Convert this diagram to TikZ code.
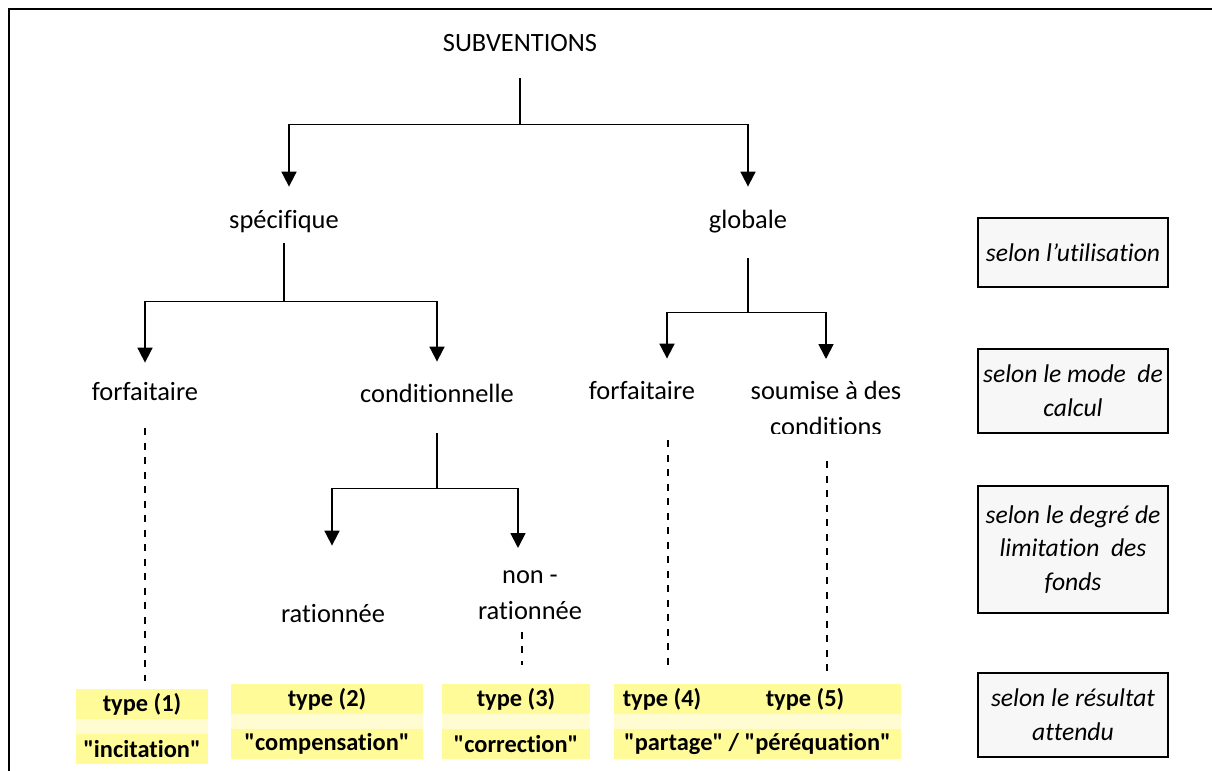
\documentclass[tikz,border=0pt]{standalone}
\usepackage{fontspec}
\setmainfont{Carlito}[Ligatures={NoCommon}]
\usetikzlibrary{arrows.meta}
\definecolor{typeyellow}{RGB}{255,251,153}
\definecolor{typeband}{RGB}{255,252,210}
\definecolor{critgray}{RGB}{247,247,247}
\begin{document}
\begin{tikzpicture}[x=0.5pt,y=-0.5pt,
  lbl/.style={anchor=base,inner sep=0,text height=9pt,text depth=3pt,font=\fontsize{13.2}{18}\selectfont},
  lbltwo/.style={anchor=north,inner sep=0,align=center,font=\fontsize{13.2}{18}\selectfont},
  branch/.style={line width=0.9pt,-{Triangle[width=7.5pt,length=7.5pt]}},
  dashlink/.style={line width=0.8pt,dash pattern=on 3.5pt off 3.75pt},
  typebox/.style={fill=typeyellow,inner sep=0,minimum height=15pt,font=\fontsize{12.2}{14}\selectfont\bfseries},
  crit/.style={draw,line width=1pt,fill=critgray,inner sep=0,minimum width=95pt,align=center,font=\fontsize{12.8}{16.8}\selectfont\itshape},
  pageframe/.style={line width=1.2pt}]
\useasboundingbox (0,0) rectangle (1212,771);
\draw[pageframe] (9,771) -- (9,9) -- (1212,9);
\node at (520,52) [lbl] (subv) {SUBVENTIONS};
\node at (284,228) [lbl] (spec) {spécifique};
\node at (748,228) [lbl] (glob) {globale};
\node at (145,400) [lbl] (forfL) {forfaitaire};
\node at (437,402) [lbl] (cond) {conditionnelle};
\node at (642,399) [lbl] (forfR) {forfaitaire};
\begin{scope}
\clip (740,360) rectangle (920,433);
\node at (826,381) [lbltwo] (soum) {soumise à des\\conditions};
\end{scope}
\node at (333,622) [lbl] (ratio) {rationnée};
\node at (530,570) [lbltwo] (nonrat) {non -\\rationnée};
\draw[branch,shorten <=10pt,shorten >=11.5pt] (subv.south) -- ++(0,66) -| ([xshift=2.5pt]spec.north);
\draw[branch,shorten <=10pt,shorten >=11.5pt] (subv.south) -- ++(0,66) -| (glob.north);
\draw[branch,shorten <=4.5pt,shorten >=9.5pt] (spec.south) -- ++(0,67) -| (forfL.north);
\draw[branch,shorten <=4.5pt,shorten >=11pt] (spec.south) -- ++(0,67) -| (cond.north);
\draw[branch,shorten <=12pt,shorten >=11pt] (glob.south) -- ++(0,78) -| ([xshift=12.5pt]forfR.north);
\draw[branch,shorten <=12pt,shorten >=11pt] (glob.south) -- ++(0,78) -| (soum.north);
\draw[branch,shorten <=12.5pt,shorten >=29pt] (cond.south) -- ++(0,80) -| ([xshift=-0.5pt]ratio.north);
\draw[branch,shorten <=12.5pt,shorten >=11pt] (cond.south) -- ++(0,80) -| ([xshift=-6pt]nonrat.north);
\foreach \n/\x/\y/\w/\txt in {1/142/704/66/incitation,2/327/699/96/compensation,3/516/699/74/correction}{
  \node at (\x,\y) [typebox,minimum width=\w pt] (t\n) {type (\n)};
  \node at (\x,\y+45) [typebox,minimum width=\w pt] (b\n) {\textquotedbl\txt\textquotedbl};
  \fill[typeband] (t\n.south west) rectangle (b\n.north east);
}
\node at (757.5,699) [typebox,minimum width=143.5pt] (t4) {};
\node at (757.5,744) [typebox,minimum width=143.5pt] (b4) {\textquotedbl partage\textquotedbl{} / \textquotedbl péréquation\textquotedbl};
\fill[typeband] (t4.south west) rectangle (b4.north east);
\node at (662,699) [typebox,fill=none] (ty4) {type (4)};
\node at (805,699) [typebox,fill=none] (ty5) {type (5)};
\draw[dashlink,shorten <=11pt,shorten >=4pt] (forfL.south) -- (forfL.south |- t1.north);
\draw[dashlink,shorten <=6pt,shorten >=9.5pt] ([xshift=-4pt]nonrat.south) -- ([xshift=-4pt]nonrat.south |- t3.north);
\draw[dashlink,shorten <=17.5pt,shorten >=6pt] ([xshift=13pt]forfR.south) -- ([xshift=13pt]forfR.south |- t4.north);
\draw[dashlink,shorten <=12.5pt,shorten >=4.5pt] ([xshift=0.5pt]soum.south) -- ([xshift=0.5pt]soum.south |- t4.north);
\node at (1073,252.5) [crit,minimum height=34.5pt] (crituse) {selon l’utilisation};
\node at (1073,390.5) [crit,minimum height=42pt] (critcalc) {selon le mode\ \ de\\calcul};
\node at (1073,549.5) [crit,minimum height=63.5pt] (critfund) {selon le degré de\\limitation\ \ des\\fonds};
\node at (1073,715) [crit,minimum height=42pt] (critres) {selon le résultat\\attendu};
\end{tikzpicture}
\end{document}
